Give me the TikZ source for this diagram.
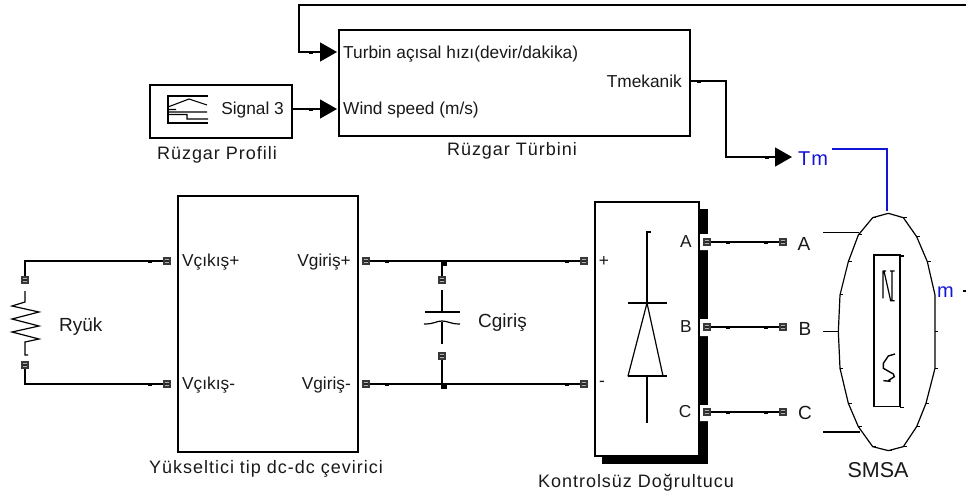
\documentclass[tikz,border=0pt]{standalone}
\usepackage{fontspec}
\setmainfont{Liberation Sans}
\usetikzlibrary{arrows.meta,positioning}
\definecolor{simblue}{RGB}{20,20,215}
\newcommand{\wfont}[2]{\fontsize{#1pt}{#1pt}\selectfont\addfontfeature{LetterSpace=#2}}
\tikzset{
 x=1pt,y=-1pt,
 wire/.style={line width=1.3pt,black,line join=miter},
 sig/.style={wire,-{Triangle[length=17pt,width=19pt]}},
 block/.style={draw=black,line width=1.3pt,fill=white,inner sep=0pt},
 port/.style={draw=black!78,fill=black!30,line width=1.4pt,minimum size=6.2pt,inner sep=0pt,
   path picture={\fill[black!85] ([yshift=-.6pt]path picture bounding box.west) rectangle ([yshift=.6pt]path picture bounding box.east);}},
 junc/.style={fill=black,minimum size=5.5pt,inner sep=0pt},
 lab/.style={inner sep=0pt,font=\fontsize{17.3pt}{19pt}\selectfont,text=black!90},
 captext/.style={inner sep=0pt,anchor=base,font=\wfont{18}{5.5},text=black!90},
 bigtext/.style={inner sep=0pt,font=\fontsize{19pt}{21pt}\selectfont,text=black!90},
 bluetext/.style={inner sep=0pt,anchor=base west,font=\wfont{20}{5},text=simblue},
 sym/.style={line width=1.2pt,black},
}
\begin{document}
\begin{tikzpicture}
\path[use as bounding box] (0,0) rectangle (966,498);
% blocks
\node[block,minimum width=351pt,minimum height=106pt] (turb) at (514.5,83) {};
\node[block,minimum width=142pt,minimum height=53pt] (prof) at (221,111.5) {};
\node[block,minimum width=180pt,minimum height=256pt] (boost) at (268,324) {};
\fill[black] (602,209) rectangle (708,464);
\fill[white] (699,234) rectangle (709,250) (699,319) rectangle (709,336) (699,405) rectangle (709,421);
\node[block,minimum width=104pt,minimum height=254pt] (rect) at (647,329) {};
% block texts
\node[lab,anchor=base west] (t1) at (343,58) {Turbin açısal hızı(devir/dakika)};
\node[lab,anchor=base west] (t2) at (343,114.5) {Wind speed (m/s)};
\node[lab,anchor=base east] (t3) at (682,87) {Tmekanik};
\node[lab,anchor=base east] (sg) at (284,114.5) {Signal 3};
\node[captext] (c1) at (217,159) {Rüzgar Profili};
\node[captext] (c2) at (512,155) {Rüzgar Türbini};
\node[captext] (c3) at (266,473) {Yükseltici tip dc-dc çevirici};
\node[captext] (c4) at (636,487) {Kontrolsüz Doğrultucu};
\node[inner sep=0pt,anchor=base,font=\fontsize{21.5pt}{22pt}\selectfont,text=black!90] (c5) at (878,477) {SMSA};
\node[bigtext,anchor=base west] (c6) at (59,331) {Ryük};
\node[bigtext,anchor=base west] (c7) at (478,327) {Cgiriş};
\node[lab,anchor=base west] (v1) at (182,266) {Vçıkış+};
\node[lab,anchor=base west] (v2) at (182,389) {Vçıkış-};
\node[lab,anchor=base east] (v3) at (351,266) {Vgiriş+};
\node[lab,anchor=base east] (v4) at (351,389) {Vgiriş-};
\node[lab] (pl) at (604,262) {+};
\node[lab] (mi) at (602,384) {-};
\node[lab,anchor=base] (ia) at (686,247) {A};
\node[lab,anchor=base] (ib) at (686,332) {B};
\node[lab,anchor=base] (ic) at (685,417) {C};
\node[bigtext,anchor=base] (oa) at (804,250) {A};
\node[bigtext,anchor=base] (ob) at (805,335) {B};
\node[bigtext,anchor=base] (oc) at (805,419) {C};
\node[bluetext] (tm) at (798,165) {Tm};
\node[bluetext] (mm) at (937,297) {m};
% signal coordinates
\coordinate (fb0) at (966,5);
\coordinate (fb1) at (299,5);
\coordinate (in1) at (337,52);
\coordinate (in2) at (337,109);
\coordinate (out) at (690,81);
\coordinate (tmin) at (792,157);
\coordinate (bl0) at (832,149);
\coordinate (bl1) at (887,149);
\coordinate (sh) at (887,211);
\draw[sig] (fb0) -- (fb1) |- (in1);
\draw[sig] (prof.east |- in2) -- (in2);
\draw[sig] (out) -- (726,81) |- (tmin);
\draw[line width=1.3pt,simblue] (bl0) -- (bl1) -- (sh);
\draw[wire] (963,291) -- (966,291);
% ports
\node[port] (l1) at (167,261) {};
\node[port] (l2) at (167,384) {};
\node[port] (r1) at (366,261) {};
\node[port] (r2) at (366,384) {};
\node[port] (d1) at (584,261) {};
\node[port] (d2) at (584,384) {};
\node[port] (pa) at (707,242) {};
\node[port] (pb) at (707,327) {};
\node[port] (pc) at (707,412) {};
\node[port] (qa) at (783,242) {};
\node[port] (qb) at (783,327) {};
\node[port] (qc) at (783,412) {};
\node[port] (ra) at (25,280) {};
\node[port] (rb) at (25,365) {};
\node[port] (ca) at (442,280) {};
\node[port] (cb) at (442,356) {};
\node[junc] (j1) at (444,263) {};
\node[junc] (j2) at (444,386) {};
\coordinate (rt) at (25,261);
\coordinate (rbm) at (25,384);
\coordinate (ct) at (442,261);
\coordinate (cbm) at (442,384);
% wires
\draw[wire] (ra) -- (rt) -- (l1);
\draw[wire] (rb) -- (rbm) -- (l2);
\draw[wire] (r1) -- (d1);
\draw[wire] (r2) -- (d2);
\draw[wire] (ca) -- (ct);
\draw[wire] (cb) -- (cbm);
\draw[wire] (pa) -- (qa);
\draw[wire] (pb) -- (qb);
\draw[wire] (pc) -- (qc);
% small marks on the wires
\foreach \a/\b in {150/262,150/385,387/262,387/385,567/262,567/385,728/243,766/243,728/328,766/328,728/413,766/413,699/82,767/158,311/53,311/110}
  \fill[black] (\a-2,\b) rectangle (\a+2,\b+1.2);
% resistor
\draw[sym] (25,291) -- (25,302) -- (12,306) -- (39,312) -- (12,319) -- (39,326) -- (12,332) -- (39,339) -- (25,342) -- (25,355) -- (28,355);
% capacitor
\draw[sym] (442,290) -- (442,311) (425,312) -- (460,312);
\draw[sym] (424,324) .. controls (435,324) and (436,321) .. (442,321) .. controls (448,321) and (450,324) .. (460,324);
\draw[sym] (442,322) -- (442,344);
% diode
\draw[sym] (651,232) -- (647,232) -- (647,303);
\draw[line width=1.5pt] (628,303) -- (667,303);
\draw[sym,line join=bevel] (647,303) -- (628,376) -- (663,376) -- cycle;
\draw[sym] (628,376) -- (667,376) (647,376) -- (647,423);
% source icon
\draw[line width=1.3pt] (208,96) -- (168,96) -- (168,123) -- (208,123);
\draw[line width=1.1pt] (168,107) -- (189,99) -- (207,105) (168,112) -- (207,112) (168,114.5) -- (187,114.5) -- (187,119) -- (208,119) (168,109.5) -- (176,109.5);
% motor
\begin{scope}[shift={(780,140)},x=.3333pt,y=-.3333pt]
\draw[sym,line join=bevel] (325,220) -- (370,233) -- (410,290) -- (442,365) -- (465,465) -- (465,685) -- (438,790) -- (410,860) -- (370,920) -- (325,932) -- (278,920) -- (235,860) -- (205,790) -- (180,685) -- (175,575) -- (180,465) -- (205,365) -- (235,285) -- (278,233) -- cycle;
\foreach \a/\b in {370/233,410/290,442/365,465/575,465/685,438/790,410/860,370/920,325/932,278/920,235/860,205/790,180/685,180/465,205/365,235/285,278/233}
  \draw[line width=1pt] (\a,\b) -- (\a+10,\b);
\draw[sym] (282,345) rectangle (360,800);
\draw[sym] (360,348) -- (372,348) (360,802) -- (372,802);
\draw[sym] (130,278) -- (238,278) (130,575) -- (178,575) (130,876) -- (240,876);
\draw[line width=1.2pt] (308,393) -- (318,393) (330,393) -- (344,393) (309,393) -- (309,475) (312,393) -- (332,482) -- (344,482) (336,393) -- (336,480);
\draw[line width=1.4pt] (345,642) -- (325,648) -- (310,670) -- (310,685) -- (340,702) -- (343,710) -- (325,722) (310,722) -- (332,724);
\end{scope}
\end{tikzpicture}
\end{document}
